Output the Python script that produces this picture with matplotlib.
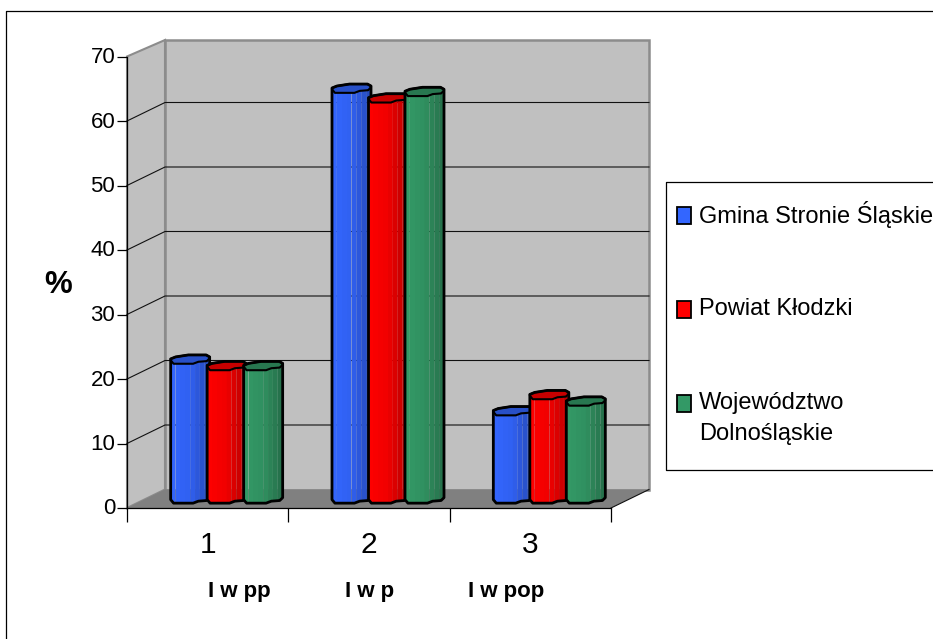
import numpy as np
import matplotlib
matplotlib.use('Agg')
import matplotlib.pyplot as plt
from matplotlib.patches import Rectangle
from matplotlib.lines import Line2D
from matplotlib.transforms import ScaledTranslation

plt.rcParams['font.family'] = ['Liberation Sans', 'DejaVu Sans']

# dane
series_names = ['Gmina Stronie Śląskie', 'Powiat Kłodzki', 'Województwo\nDolnośląskie']
gmina = [22, 64, 14]
powiat = [21, 62.5, 16.5]
wojewodztwo = [21, 63.5, 15.5]
categories = ['1', '2', '3']
sub_labels = ['I w pp', 'I w p', 'I w pop']
y_ticks = [0, 10, 20, 30, 40, 50, 60, 70]

W, H = 933, 639
fig = plt.figure(figsize=(W / 100, H / 100), dpi=100, facecolor='white')

AX_L, AX_R, AX_T, AX_B = 127, 611, 56.5, 508
ax = fig.add_axes([AX_L / W, 1 - AX_B / H, (AX_R - AX_L) / W, (AX_B - AX_T) / H])
ax.set_xlim(0, 3)
ax.set_ylim(0, 70)
ax.patch.set_visible(False)

px_x = 3 / (AX_R - AX_L)
px_y = 70 / (AX_B - AX_T)
depth_x = 38 * px_x
depth_y = 18.5 * px_y
wall_top = (AX_B - 40) * px_y


def fx(x):
    return x / W


def fy(y):
    return 1 - y / H


# ramka wykresu
fig.add_artist(Line2D([fx(6), fx(6), fx(W)], [fy(H), fy(11), fy(11)], color='black', lw=0.9))

# sciany i podloga 3D
ax.fill([0, depth_x, depth_x, 0], [0, depth_y, wall_top, 70], fc='#c0c0c0', ec='#8c8c8c', lw=1.5, clip_on=False, zorder=1)
ax.fill([depth_x, 3 + depth_x, 3 + depth_x, depth_x], [depth_y, depth_y, wall_top, wall_top],
        fc='#c0c0c0', ec='#8c8c8c', lw=1.8, clip_on=False, zorder=1)
ax.fill([0, 3, 3 + depth_x, depth_x], [0, 0, depth_y, depth_y], fc='#808080', ec='none', clip_on=False, zorder=1.5)

# siatka
for v in y_ticks[1:-1]:
    ax.plot([0, depth_x, 3 + depth_x], [v, v + depth_y, v + depth_y], color='#111111', lw=0.8, clip_on=False, zorder=2)
ax.plot([3, 3 + depth_x], [0, depth_y], color='#111111', lw=0.8, clip_on=False, zorder=2)

# kształt walca (wielokąt jak w oryginale)
front_t = [-1, -0.85, 0.15, 0.42, 0.85, 1]
front_off = [-0.2, -1, -1, -0.55, -0.4, 0.25]
cap_t = [-1, -0.75, -0.1, 0.82, 1]
cap_off = [0.1, 0.55, 1, 1, 0.55]
half_w = 19.5 * px_x
half_h = 4.4 * px_y
step = 36.5 * px_x
base = depth_y / 2
top_shift = 2.5 * px_y


def shade(color, k):
    return tuple(np.array(matplotlib.colors.to_rgb(color)) * k)


def draw_bar(xc, value, color, z):
    top = base + value - top_shift
    edges = np.linspace(-1, 1, 9)
    levels = np.interp((edges[:-1] + edges[1:]) / 2, [-1, 0, 1], [1.0, 0.94, 0.72])
    for a, b, k in zip(edges[:-1], edges[1:], levels):
        ts = np.linspace(a, b, 6)
        low = base + np.interp(ts, front_t, front_off) * half_h
        high = top + np.interp(ts, front_t, front_off) * half_h
        ax.fill(np.r_[ts, ts[::-1]] * half_w + xc, np.r_[low, high[::-1]], fc=shade(color, k), ec='none', clip_on=False, zorder=z)
    ts = np.unique(np.r_[front_t, cap_t])
    low = base + np.interp(ts, front_t, front_off) * half_h
    high = top + np.interp(ts, front_t, front_off) * half_h
    cap = top + np.interp(ts, cap_t, cap_off) * half_h
    # denko gorne
    ax.fill(np.r_[ts, ts[::-1]] * half_w + xc, np.r_[high, cap[::-1]], fc=shade(color, 0.78), ec='black', lw=1.5,
            clip_on=False, zorder=z + 0.1, joinstyle='round')
    # obrys
    ax.fill(np.r_[ts, ts[::-1]] * half_w + xc, np.r_[low, cap[::-1]], fc='none', ec='black', lw=2.0,
            clip_on=False, zorder=z + 0.2, joinstyle='round')


colors = ['#3366ff', '#ff0000', '#339966']
for j, (vals, col) in enumerate(zip([gmina, powiat, wojewodztwo], colors)):
    for i, v in enumerate(vals):
        draw_bar(i + 0.5 + (j - 1) * step + depth_x / 2, v, col, 3 + j)

# osie
for s in ['top', 'right']:
    ax.spines[s].set_visible(False)
for s in ['left', 'bottom']:
    ax.spines[s].set_linewidth(0.9)
    ax.spines[s].set_zorder(2.5)
ax.set_yticks(y_ticks)
ax.tick_params(axis='y', length=7, width=0.9, pad=1.5, labelsize=16)
# etykiety Y lekko nad kreskami
for t in ax.get_yticklabels():
    t.set_transform(t.get_transform() + ScaledTranslation(0, 1.5 / 100, fig.dpi_scale_trans))
ax.set_xticks([0, 1, 2, 3], ['', '', '', ''])
ax.tick_params(axis='x', length=10, width=0.9)
ax.set_xticks([0.5, 1.5, 2.5], categories, minor=True)
ax.tick_params(axis='x', which='minor', length=0, pad=16.5, labelsize=21.5)

# opisy pod osia
fig.text(fx(239.5), fy(591), sub_labels[0], ha='center', va='center', fontsize=16, fontweight='bold')
fig.text(fx(370), fy(591), sub_labels[1], ha='center', va='center', fontsize=16, fontweight='bold')
fig.text(fx(506.5), fy(591), sub_labels[2], ha='center', va='center', fontsize=16, fontweight='bold')
fig.text(fx(58), fy(285), '%', ha='center', va='center', fontsize=22.5, fontweight='bold')

# legenda
fig.add_artist(Line2D([fx(W), fx(666), fx(666), fx(W)], [fy(182), fy(182), fy(470), fy(470)], color='black', lw=0.9))
leg_y = [215, 309.5, 403.5]
leg_text_y = [214, 311, 405]
for yy, ty, col, name in zip(leg_y, leg_text_y, colors, series_names):
    fig.add_artist(Rectangle((fx(677), fy(yy + 8.5)), 14 / W, 17 / H, fc=col, ec='black', lw=1.3, transform=fig.transFigure))
    fig.text(fx(699), fy(ty - 13), name, ha='left', va='top', fontsize=17, linespacing=1.55)

fig.savefig('out.png', dpi=100)
